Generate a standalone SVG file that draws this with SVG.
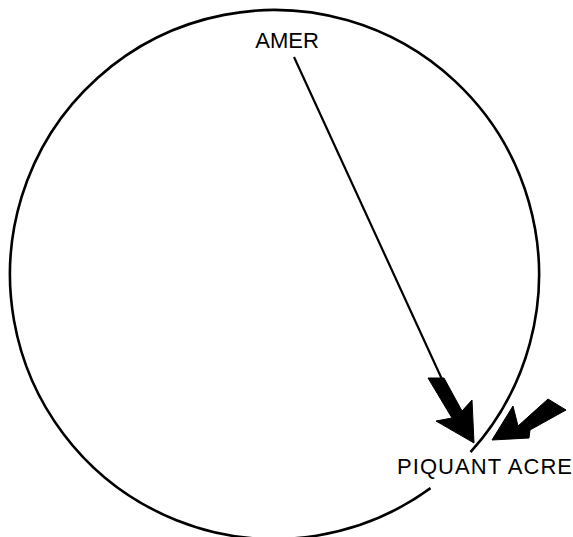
<svg xmlns="http://www.w3.org/2000/svg" width="573" height="537" viewBox="0 0 573 537">
<style>
.lbl{font-family:"Liberation Sans",Arial,sans-serif;font-size:22px;fill:#000}
.ring{fill:none;stroke:#000;stroke-width:2.6}
.conn{fill:none;stroke:#000;stroke-width:2.2}
.head{fill:#000;stroke:#000;stroke-width:1;stroke-linejoin:miter}
</style>
<rect width="573" height="537" fill="#fff"/>
<g id="circle">
<path class="ring" d="M 470.5 452.1 A 264.5 264.5 0 1 0 430.5 488.1"/>
</g>
<g id="amer">
<text class="lbl" x="287" y="48" text-anchor="middle">AMER</text>
</g>
<g id="piquant-acre">
<text class="lbl" x="397" y="474" textLength="175" lengthAdjust="spacing">PIQUANT ACRE</text>
</g>
<g id="connectors">
<line class="conn" x1="294" y1="57" x2="446" y2="388"/>
<polygon class="head" points="428,378 444,378 462,411 472,400 474,443 436,421 452,418"/>
<polygon class="head" points="492,440 513,406 518,426 548,399 566,410 530,430 529,438"/>
</g>
</svg>
